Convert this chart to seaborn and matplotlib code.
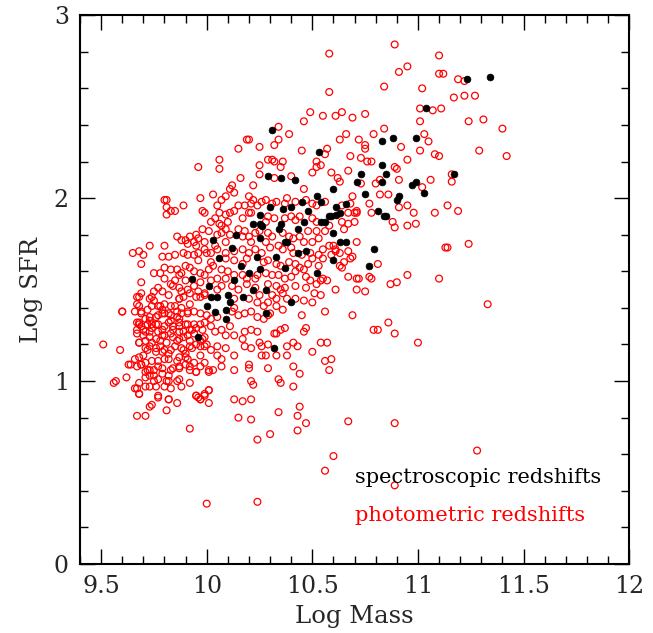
import numpy as np
import pandas as pd
import matplotlib
matplotlib.use("Agg")
import matplotlib.pyplot as plt
import seaborn as sns
from matplotlib.ticker import MultipleLocator

# photometric redshift sample (open red circles)
phot_mass = [
    # upper envelope
    10.89, 11.10, 10.58, 10.95, 10.91, 11.10, 11.12, 10.58, 10.84, 11.02,
    11.01, 11.11, 11.07, 11.01, 10.49, 10.46, 10.55, 10.61, 10.64, 10.69,
    10.75, 10.34, 10.39, 10.84, 10.79, 10.66, 10.63, 10.72, 11.03, 11.05,
    10.92, 11.01, 11.08, 11.10, 10.95, 10.75, 10.75, 10.57, 10.56, 10.45,
    10.34, 10.32, 10.68, 10.73, 10.76, 10.78, 10.89, 10.90, 10.52, 10.54,
    10.52, 10.50, 10.36, 10.35, 10.29, 10.31, 10.32, 10.32, 10.40, 10.59,
    10.67, 10.62, 10.63, 10.82, 10.80, 10.91, 11.02, 11.06, 10.46, 10.38,
    10.69, 10.73, 10.82, 10.86,
    11.19, 11.22, 11.17, 11.22, 11.27, 11.24, 11.31, 11.40, 11.29, 11.42,
    11.16, 11.16,
    9.96, 10.06, 10.06, 10.15, 10.19, 10.20, 10.25, 10.25, 10.25, 10.16,
    10.22, 10.12, 10.11, 10.13, 10.03, 10.09, 9.97, 9.81, 10.20,
    # right side, below 2
    11.14, 11.19, 11.14, 11.24, 11.33, 11.08, 11.13, 10.98, 10.95, 10.91,
    10.95, 10.99, 10.89, 10.88, 10.77, 10.78, 10.71, 10.71, 10.67, 10.70,
    10.67, 10.65, 10.71, 10.60, 10.61, 10.63, 10.67, 10.69, 10.68, 10.65,
    10.81, 10.63, 10.64, 10.67, 10.71, 10.72, 10.77, 10.78, 10.95, 11.10,
    10.87, 10.90, 10.71, 10.75, 10.61, 10.55, 10.57, 10.52, 10.47, 10.51,
    10.54, 10.46, 10.50, 10.45, 10.56, 10.69, 10.86, 10.79, 10.81, 10.89,
    11.00, 10.47, 10.46, 10.37, 10.35, 10.33, 10.32, 10.29, 10.38, 10.41,
    10.43, 10.54, 10.57, 10.50, 10.38, 10.56, 10.59, 10.58, 10.41, 10.44,
    10.29, 10.34,
    # dense part near 10.3 - 10.6
    10.28, 10.31, 10.33, 10.37, 10.42, 10.47, 10.50, 10.52, 10.56, 10.64,
    10.68, 10.70, 10.29, 10.32, 10.28, 10.37, 10.40, 10.42, 10.44, 10.50,
    10.52, 10.48, 10.52, 10.56, 10.58, 10.64, 10.29, 10.31, 10.36, 10.39,
    10.41, 10.44, 10.46, 10.50, 10.53, 10.55, 10.58, 10.61, 10.28, 10.30,
    10.34, 10.36, 10.40, 10.41, 10.45, 10.49, 10.53, 10.55, 10.59, 10.27,
    10.29, 10.33, 10.35, 10.39, 10.42, 10.44, 10.48, 10.50, 10.53, 10.42,
    10.46, 10.28, 10.31, 10.34, 10.37, 10.40, 10.47, 10.49, 10.54, 10.29,
    10.33, 10.35, 10.37, 10.42, 10.31, 10.33, 10.36, 10.38, 10.42, 10.29,
    10.33, 10.36, 10.27, 10.30, 10.27, 10.29, 10.26, 10.28, 10.33,
    # main cloud 9.5 - 10.26
    9.80, 9.81, 9.83, 9.85, 9.89, 9.81, 9.98, 9.99, 10.05, 10.06,
    10.09, 10.11, 10.13, 10.15, 10.18, 10.21, 10.22, 10.20, 10.17, 10.07,
    10.21, 10.24, 10.26,
    10.04, 10.06, 10.07, 10.10, 10.02, 10.01, 9.98, 9.95, 9.92, 9.90,
    9.86, 9.88, 9.91, 9.94, 9.96, 10.05, 10.07, 10.09, 10.11, 10.15,
    10.18, 10.20, 10.23, 10.25, 10.17, 10.21, 9.99, 10.04, 10.09, 10.00,
    9.65, 9.68, 9.70, 9.73, 9.80, 9.79, 9.82, 9.85, 9.89, 9.91,
    9.94, 9.95, 9.96, 9.99, 10.02, 10.05, 10.09, 10.13, 10.17, 10.20,
    10.23, 10.26, 9.96, 10.02, 10.09, 10.13, 10.19, 10.17,
    9.69, 9.75, 9.78, 9.80, 9.83, 9.86, 9.87, 9.88, 9.80, 9.83,
    9.85, 9.90, 9.92, 9.94, 9.97, 9.99, 10.01, 10.03, 10.07, 10.10,
    10.13, 10.17, 10.19, 10.23, 10.24, 10.05, 10.09, 10.02, 9.97, 9.90,
    9.69, 9.68, 9.73, 9.75, 9.77, 9.79, 9.82, 9.84, 9.87, 9.88,
    9.91, 9.94, 9.96, 9.97, 9.99, 10.05, 10.07, 10.12, 10.15, 10.19,
    10.23, 10.25, 9.87, 10.20, 10.24, 10.13,
    9.67, 9.60, 9.69, 9.72, 9.74, 9.77, 9.79, 9.80, 9.83, 9.86,
    9.88, 9.91, 9.94, 9.97, 10.00, 10.02, 10.05, 10.12, 10.15, 10.18,
    10.21, 10.24, 9.87, 9.83, 9.77, 9.73, 9.71, 9.68, 10.13,
    9.67, 9.67, 9.69, 9.71, 9.74, 9.77, 9.79, 9.82, 9.84, 9.87,
    9.89, 9.91, 9.93, 9.95, 9.98, 10.02, 10.04, 10.07, 10.11, 10.13,
    10.17, 10.18, 10.21, 10.24, 9.70, 9.73, 9.76, 9.80, 9.84, 9.87,
    9.91, 9.98, 10.09,
    9.51, 9.59, 9.68, 9.71, 9.73, 9.76, 9.78, 9.80, 9.82, 9.85,
    9.88, 9.90, 9.93, 9.95, 9.99, 10.02, 10.05, 10.09, 10.13, 10.18,
    10.21, 10.25, 9.70, 9.80, 9.87, 9.91, 9.97, 10.05, 10.20, 10.26,
    9.57, 9.62, 9.64, 9.67, 9.69, 9.71, 9.73, 9.75, 9.77, 9.79,
    9.82, 9.84, 9.87, 9.90, 9.92, 9.95, 9.97, 10.01, 10.03, 10.07,
    10.07, 10.13, 10.20, 10.21, 9.75, 9.82, 9.87,
    # densest knot 9.6 - 10.0, 0.9 - 1.5
    9.69, 9.67, 9.74, 9.75, 9.68, 9.66, 9.69, 9.60, 9.78, 9.80,
    9.85, 9.87, 9.89, 9.92, 9.92, 9.95, 9.99, 9.79, 9.82, 9.76,
    9.83, 9.86, 9.88, 9.91, 9.73, 9.72, 9.74, 9.68, 9.76, 9.80,
    9.84, 9.87, 9.90, 9.94, 9.97, 9.99, 9.67, 9.70, 9.73, 9.77,
    9.79, 9.83, 9.87, 9.92, 9.94, 9.99, 9.68, 9.71, 9.74, 9.78,
    9.81, 9.86, 9.89, 9.92, 9.97, 9.72, 9.76, 9.79, 9.83, 9.89,
    9.92, 9.97, 10.00, 9.66, 9.68, 9.71, 9.74, 9.77, 9.82, 9.86,
    9.90, 9.94, 9.99, 9.63, 9.69, 9.72, 9.75, 9.79, 9.83, 9.87,
    9.92, 9.95, 10.01, 9.71, 9.73, 9.77, 9.81, 9.86, 9.92, 9.68,
    9.67, 9.68, 9.71, 9.73, 9.76, 9.80, 9.83, 9.88, 9.95, 9.97,
    9.99, 10.01, 9.77, 9.82,
    # lower tail
    9.56, 9.66, 9.68, 9.77, 9.73, 9.74, 9.82, 9.81, 9.86, 9.67,
    9.71, 9.95, 9.96, 9.97, 9.99, 10.01, 10.01, 9.92, 10.13, 10.17,
    10.21, 10.15, 10.21, 10.24, 10.22, 10.00, 10.24,
    10.35, 10.41, 10.34, 10.44, 10.43, 10.47, 10.43, 10.30, 10.67, 10.89,
    10.60, 10.56, 10.89, 11.28,
]
phot_sfr = [
    2.84, 2.78, 2.79, 2.72, 2.69, 2.68, 2.68, 2.58, 2.61, 2.60,
    2.49, 2.49, 2.48, 2.42, 2.47, 2.42, 2.45, 2.45, 2.47, 2.44,
    2.46, 2.39, 2.35, 2.38, 2.35, 2.35, 2.32, 2.32, 2.35, 2.31,
    2.28, 2.26, 2.24, 2.23, 2.21, 2.29, 2.27, 2.27, 2.24, 2.26,
    2.32, 2.29, 2.23, 2.22, 2.20, 2.20, 2.17, 2.16, 2.20, 2.18,
    2.17, 2.14, 2.20, 2.17, 2.21, 2.21, 2.20, 2.11, 2.12, 2.14,
    2.15, 2.11, 2.09, 2.10, 2.08, 2.10, 2.06, 2.10, 2.05, 2.00,
    2.01, 2.08, 2.02, 2.02,
    2.65, 2.64, 2.55, 2.56, 2.56, 2.42, 2.43, 2.38, 2.26, 2.23,
    2.13, 2.09,
    2.17, 2.21, 2.16, 2.27, 2.32, 2.32, 2.28, 2.18, 2.13, 2.11,
    2.07, 2.07, 2.05, 2.03, 2.02, 2.01, 2.00, 1.99, 2.01,
    1.96, 1.93, 1.73, 1.75, 1.42, 1.92, 1.73, 1.92, 1.96, 1.95,
    1.85, 1.86, 1.84, 1.87, 1.97, 1.92, 1.93, 1.92, 1.92, 1.87,
    1.86, 1.83, 1.76, 1.74, 1.71, 1.70, 1.71, 1.68, 1.67, 1.65,
    1.64, 1.63, 1.62, 1.57, 1.56, 1.56, 1.57, 1.56, 1.58, 1.56,
    1.53, 1.54, 1.50, 1.49, 1.50, 1.56, 1.55, 1.53, 1.51, 1.48,
    1.47, 1.44, 1.43, 1.36, 1.38, 1.36, 1.32, 1.28, 1.28, 1.26,
    1.21, 1.29, 1.27, 1.29, 1.28, 1.26, 1.26, 1.20, 1.19, 1.21,
    1.19, 1.21, 1.21, 1.16, 1.14, 1.11, 1.12, 1.06, 1.08, 1.04,
    1.07, 1.01,
    1.99, 1.97, 1.98, 1.97, 1.98, 1.99, 1.97, 1.96, 1.98, 1.96,
    1.97, 1.92, 1.90, 1.89, 1.87, 1.89, 1.90, 1.88, 1.90, 1.89,
    1.87, 1.82, 1.82, 1.82, 1.85, 1.87, 1.81, 1.79, 1.81, 1.79,
    1.78, 1.79, 1.76, 1.76, 1.78, 1.72, 1.74, 1.72, 1.76, 1.73,
    1.74, 1.72, 1.73, 1.70, 1.69, 1.70, 1.69, 1.67, 1.69, 1.65,
    1.66, 1.64, 1.63, 1.65, 1.64, 1.62, 1.64, 1.67, 1.63, 1.60,
    1.61, 1.59, 1.58, 1.58, 1.56, 1.57, 1.57, 1.55, 1.55, 1.53,
    1.52, 1.50, 1.51, 1.52, 1.47, 1.45, 1.48, 1.45, 1.45, 1.43,
    1.41, 1.39, 1.41, 1.37, 1.34, 1.36, 1.19, 1.14, 1.14,
    1.99, 1.95, 1.93, 1.93, 1.96, 1.91, 1.93, 1.92, 1.96, 1.92,
    1.91, 1.92, 1.93, 1.96, 1.96, 1.97, 1.99, 1.92, 1.89, 1.99,
    1.92, 1.96, 1.98,
    1.89, 1.86, 1.85, 1.87, 1.87, 1.82, 1.83, 1.80, 1.79, 1.77,
    1.79, 1.77, 1.75, 1.76, 1.78, 1.80, 1.81, 1.83, 1.80, 1.83,
    1.82, 1.79, 1.81, 1.82, 1.79, 1.76, 1.76, 1.74, 1.76, 1.70,
    1.70, 1.71, 1.69, 1.74, 1.74, 1.68, 1.68, 1.69, 1.70, 1.69,
    1.69, 1.74, 1.70, 1.72, 1.70, 1.72, 1.70, 1.71, 1.72, 1.70,
    1.72, 1.70, 1.66, 1.65, 1.67, 1.66, 1.67, 1.64,
    1.64, 1.59, 1.59, 1.62, 1.61, 1.61, 1.58, 1.59, 1.56, 1.53,
    1.55, 1.63, 1.62, 1.60, 1.59, 1.58, 1.61, 1.63, 1.61, 1.60,
    1.58, 1.58, 1.56, 1.56, 1.58, 1.56, 1.56, 1.55, 1.54, 1.55,
    1.54, 1.46, 1.45, 1.49, 1.51, 1.49, 1.47, 1.52, 1.45, 1.49,
    1.50, 1.52, 1.49, 1.46, 1.48, 1.50, 1.52, 1.52, 1.50, 1.53,
    1.51, 1.47, 1.51, 1.45, 1.43, 1.45,
    1.42, 1.38, 1.38, 1.39, 1.41, 1.41, 1.39, 1.37, 1.36, 1.38,
    1.40, 1.38, 1.38, 1.37, 1.36, 1.34, 1.35, 1.38, 1.36, 1.37,
    1.38, 1.35, 1.34, 1.41, 1.36, 1.35, 1.34, 1.32, 1.40,
    1.32, 1.28, 1.30, 1.27, 1.29, 1.31, 1.28, 1.32, 1.28, 1.30,
    1.27, 1.31, 1.28, 1.29, 1.28, 1.30, 1.27, 1.28, 1.30, 1.25,
    1.23, 1.27, 1.28, 1.27, 1.25, 1.24, 1.23, 1.25, 1.24, 1.23,
    1.25, 1.23, 1.25,
    1.20, 1.17, 1.21, 1.18, 1.19, 1.16, 1.19, 1.17, 1.15, 1.19,
    1.18, 1.15, 1.18, 1.20, 1.19, 1.17, 1.19, 1.18, 1.14, 1.19,
    1.18, 1.21, 1.14, 1.12, 1.13, 1.12, 1.14, 1.14, 1.09, 1.14,
    1.00, 1.02, 1.09, 1.08, 1.09, 1.05, 1.06, 1.03, 1.08, 1.04,
    1.03, 1.07, 1.08, 1.09, 1.06, 1.05, 1.08, 1.05, 1.06, 1.12,
    1.08, 1.06, 1.07, 1.00, 1.00, 1.00, 1.01,
    1.48, 1.46, 1.46, 1.44, 1.41, 1.38, 1.37, 1.38, 1.41, 1.42,
    1.41, 1.45, 1.46, 1.42, 1.48, 1.46, 1.47, 1.37, 1.37, 1.35,
    1.33, 1.35, 1.37, 1.37, 1.33, 1.31, 1.31, 1.31, 1.31, 1.30,
    1.30, 1.32, 1.31, 1.31, 1.31, 1.32, 1.26, 1.28, 1.27, 1.27,
    1.25, 1.26, 1.27, 1.28, 1.26, 1.24, 1.21, 1.22, 1.21, 1.22,
    1.21, 1.22, 1.24, 1.22, 1.22, 1.17, 1.18, 1.16, 1.17, 1.17,
    1.19, 1.19, 1.20, 1.12, 1.13, 1.10, 1.11, 1.11, 1.12, 1.11,
    1.13, 1.10, 1.10, 1.09, 1.09, 1.06, 1.06, 1.07, 1.06, 1.07,
    1.08, 1.05, 1.06, 1.02, 1.03, 1.01, 1.00, 1.00, 0.99, 0.99,
    0.96, 0.93, 0.97, 0.97, 0.97, 0.97, 0.96, 0.97, 0.92, 0.90,
    0.93, 0.95, 0.91, 0.90,
    0.99, 0.96, 0.93, 0.92, 0.86, 0.87, 0.90, 0.84, 0.88, 0.81,
    0.81, 0.92, 0.91, 0.90, 0.92, 0.88, 0.95, 0.74, 0.90, 0.89,
    0.90, 0.80, 0.79, 0.68, 0.98, 0.33, 0.34,
    0.99, 0.97, 0.83, 0.86, 0.81, 0.77, 0.73, 0.71, 0.78, 0.77,
    0.59, 0.51, 0.43, 0.62,
]

# spectroscopic redshift sample (filled black circles)
spec_mass = [
    11.04, 10.31, 10.83, 10.88, 10.99, 10.53, 10.83, 10.29, 10.35, 10.42,
    10.73, 10.85, 10.71, 10.83, 10.99, 10.97, 11.03, 10.60, 10.52, 10.75,
    10.91, 11.23, 11.34, 11.17,
    10.30, 10.36, 10.40, 10.45, 10.54, 10.61, 10.63, 10.59, 10.61, 10.58,
    10.48, 10.46, 10.54, 10.56, 10.35, 10.34, 10.43, 10.26, 10.37, 10.38,
    10.47, 10.43, 10.33, 10.37, 10.28, 10.28, 10.81, 10.84, 10.85, 10.90,
    10.66, 10.66, 10.63, 10.60, 10.79, 10.60, 10.77, 10.52, 10.40, 10.32,
    10.25, 10.22, 10.25, 10.14, 10.03, 10.12, 10.25, 10.24, 10.06, 10.16,
    10.25, 10.20, 9.93, 10.13, 10.22, 10.01, 10.02, 10.05, 10.10, 10.17,
    10.11, 10.00, 10.04, 10.09, 10.09, 9.96,
]
spec_sfr = [
    2.49, 2.37, 2.31, 2.33, 2.33, 2.25, 2.18, 2.12, 2.11, 2.10,
    2.13, 2.13, 2.09, 2.09, 2.09, 2.07, 2.03, 2.05, 2.01, 2.02,
    2.01, 2.65, 2.66, 2.13,
    1.95, 1.94, 1.95, 1.98, 1.98, 1.95, 1.92, 1.90, 1.91, 1.90,
    1.93, 1.87, 1.87, 1.87, 1.86, 1.83, 1.83, 1.85, 1.76, 1.76,
    1.71, 1.70, 1.68, 1.62, 1.50, 1.37, 1.93, 1.90, 1.90, 1.99,
    1.97, 1.76, 1.76, 1.81, 1.72, 1.66, 1.63, 1.59, 1.43, 1.18,
    1.91, 1.86, 1.86, 1.80, 1.77, 1.73, 1.78, 1.68, 1.67, 1.63,
    1.61, 1.59, 1.56, 1.55, 1.50, 1.52, 1.46, 1.46, 1.47, 1.46,
    1.43, 1.41, 1.38, 1.39, 1.34, 1.24,
]

phot = pd.DataFrame({"mass": phot_mass, "sfr": phot_sfr})
spec = pd.DataFrame({"mass": spec_mass, "sfr": spec_sfr})

sns.set_style("ticks")
plt.rcParams["font.family"] = ["DejaVu Serif"]

fig = plt.figure(figsize=(6.53, 6.33), dpi=100)
ax = fig.add_axes([0.1225, 0.109, 0.841, 0.867])

sns.scatterplot(data=phot, x="mass", y="sfr", ax=ax, marker="o",
                facecolor="none", edgecolor="red", linewidth=0.9, s=24)
sns.scatterplot(data=spec, x="mass", y="sfr", ax=ax, marker="o",
                color="black", edgecolor="black", linewidth=0.5, s=24)

ax.set_xlim(9.4, 12)
ax.set_ylim(0, 3)
ax.xaxis.set_minor_locator(MultipleLocator(0.1))
ax.yaxis.set_minor_locator(MultipleLocator(0.2))
ax.set_xticks([9.5, 10, 10.5, 11, 11.5, 12])
ax.set_xticklabels(["9.5", "10", "10.5", "11", "11.5", "12"])
ax.set_yticks([0, 1, 2, 3])
ax.set_yticklabels(["0", "1", "2", "3"])
ax.tick_params(which="both", direction="in", top=True, right=True,
               color="black", width=1.0, labelsize=17, pad=8)
ax.tick_params(which="major", length=11)
ax.tick_params(which="minor", length=5.5)
for sp in ax.spines.values():
    sp.set_linewidth(1.5)
    sp.set_color("black")

ax.set_xlabel("Log Mass", fontsize=17.5, labelpad=5)
ax.set_ylabel("Log SFR", fontsize=17.5, labelpad=8)

ax.text(0.50, 0.158, "spectroscopic redshifts", transform=ax.transAxes,
        fontsize=15, color="black", va="center", ha="left")
ax.text(0.50, 0.089, "photometric redshifts", transform=ax.transAxes,
        fontsize=15, color="red", va="center", ha="left")

fig.savefig("out.png", dpi=100)
